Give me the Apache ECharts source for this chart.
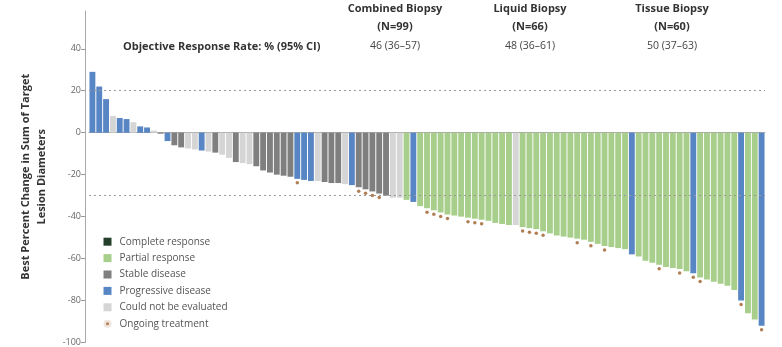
<!DOCTYPE html>
<html><head><meta charset="utf-8">
<script src="https://cdn.jsdelivr.net/npm/echarts@6/dist/echarts.min.js"></script>
<style>html,body{margin:0;padding:0;background:#fff}#c{width:782px;height:347px}</style>
</head><body><div id="c"></div>
<script>
// ---- data ----
const values = [29,22,16,8,7,6.5,5,3,2.5,1,-0.5,-4,-6,-7,-7.5,-8,-8.5,-9,-9.5,-10.5,
 -12,-14,-14.5,-15,-16,-18,-19,-20,-20.5,-21,-22,-22.5,-23,-23,-23.5,-24,-24,-24.5,-25,-26,
 -27,-28,-29,-30,-31,-31,-32,-33,-35,-36,-37,-38,-39,-39.5,-40,-40.5,-41,-41.5,-42,-43,
 -43.5,-44,-44,-45,-45.5,-46,-47,-48,-49,-49.5,-50,-50.5,-51,-52,-53,-54,-54.5,-55,-55.5,-58,
 -59,-61,-62,-63,-64,-64.5,-65,-66,-67,-69,-70,-71,-72,-73,-75,-80,-86,-89,-92];
const status = ['PD','PD','PD','NE','PD','PD','NE','PD','PD','NE','SD','PD','SD','SD','NE','NE','PD','NE','SD','NE',
 'NE','SD','NE','NE','SD','SD','SD','SD','SD','SD','PD','PD','PD','NE','SD','SD','SD','NE','PD','SD',
 'SD','SD','SD','SD','NE','NE','PR','PD','PR','PR','PR','PR','PR','PR','PR','PR','PR','PR','PR','PR',
 'PR','PR','NE','PR','PR','PR','PR','PR','PR','PR','PR','PR','PR','PR','PR','PR','PR','PR','PR','PD',
 'PR','PR','PR','PR','PR','PR','PR','PR','PD','PR','PR','PR','PR','PR','PR','PD','PR','PR','PD'];
const ongoing = [30,39,40,41,42,49,50,51,52,55,56,57,63,64,65,66,71,73,75,83,86,88,89,95,98];
const categories = values.map((v,i)=>'P'+(i+1));
const groups = [
 {code:'CR', name:'Complete response', color:'#243f2c'},
 {code:'PR', name:'Partial response', color:'#a7cf8b'},
 {code:'SD', name:'Stable disease', color:'#7f7f7f'},
 {code:'PD', name:'Progressive disease', color:'#5886c4'},
 {code:'NE', name:'Could not be evaluated', color:'#d5d5d5'}
];
const refLines = [20, -30];
const yTicks = [-100,-80,-60,-40,-20,0,20,40];
const biopsyNames = ['Combined Biopsy','Liquid Biopsy','Tissue Biopsy'];
const biopsyN = ['(N=99)','(N=66)','(N=60)'];
const orr = ['46 (36–57)','48 (36–61)','50 (37–63)'];
const orrLabel = 'Objective Response Rate: % (95% CI)';

// ---- chart ----
const FONT = '"Open Sans", Lato, sans-serif';
const chart = echarts.init(document.getElementById('c'), null, {renderer:'canvas'});
const colX = [395, 530, 672];
const graphicEls = [];
biopsyNames.forEach((n,k)=>{
  graphicEls.push({type:'text', x:colX[k], y:3, style:{text:n, fill:'#333', font:'bold 11px '+FONT, align:'center'}});
  graphicEls.push({type:'text', x:colX[k], y:21, style:{text:biopsyN[k], fill:'#333', font:'bold 11px '+FONT, align:'center'}});
  graphicEls.push({type:'text', x:colX[k], y:41, style:{text:orr[k], fill:'#444', font:'10.5px '+FONT, align:'center'}});
});
graphicEls.push({type:'text', x:123, y:41, style:{text:orrLabel, fill:'#333', font:'bold 11px '+FONT, align:'left'}});

const series = groups.map((g,gi)=>({
  name:g.name, type:'bar', stack:'all', barCategoryGap:'14%',
  itemStyle:{color:g.color},
  data: values.map((v,i)=> status[i]===g.code ? v : '-'),
  markLine: gi===0 ? {silent:true, symbol:'none', label:{show:false}, z:4,
     lineStyle:{color:'#9a9a9a', type:[2,3], width:1},
     data: refLines.map(r=>({yAxis:r}))} : undefined,
  z:2
}));
series.push({
  name:'Ongoing treatment', type:'scatter', symbol:'circle', symbolSize:3.5,
  symbolOffset:[0,4], itemStyle:{color:'#9e5f2c'},
  data: values.map((v,i)=> ongoing.includes(i) ? v : '-'), z:5
});

chart.setOption({
  animation:false,
  textStyle:{fontFamily:FONT},
  grid:{left:89, right:17, top:11, bottom:4},
  legend:{
    orient:'vertical', left:101, top:235, padding:0, itemWidth:8, itemHeight:8, itemGap:3,
    textStyle:{fontSize:10, color:'#555', fontFamily:FONT, padding:[0,0,0,3], lineHeight:13.4},
    data: groups.map(g=>({name:g.name, icon:'rect'})).concat([{name:'Ongoing treatment', icon:'circle',
      itemStyle:{color:'#9e5f2c', borderColor:'#fff', borderWidth:5}}])
  },
  xAxis:{type:'category', data:categories,
    axisLine:{show:true, onZero:true, lineStyle:{color:'#aaa'}},
    axisTick:{show:false}, axisLabel:{show:false}, splitLine:{show:false}},
  yAxis:{type:'value', min:-100, max:58, offset:4,
    name:'Best Percent Change in Sum of Target\nLesion Diameters',
    nameLocation:'middle', nameGap:35,
    nameTextStyle:{fontSize:11, fontWeight:'bold', color:'#333', lineHeight:16, fontFamily:FONT},
    axisLine:{show:true, lineStyle:{color:'#aaa'}},
    axisTick:{show:true, length:4, lineStyle:{color:'#999'}, customValues:yTicks},
    axisLabel:{fontSize:9, color:'#666', margin:4, customValues:yTicks},
    splitLine:{show:false}},
  graphic: graphicEls,
  series: series
});
</script></body></html>
